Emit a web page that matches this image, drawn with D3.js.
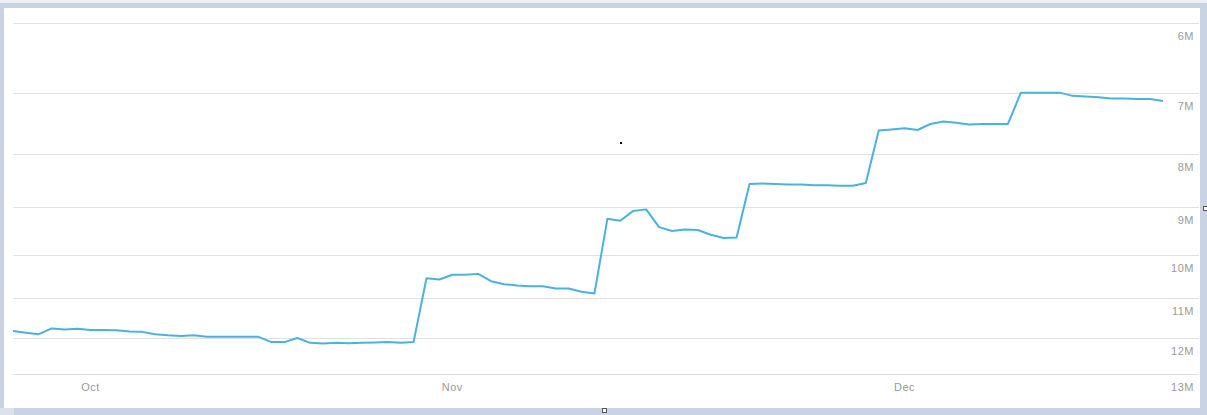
<!DOCTYPE html>
<html><head><meta charset="utf-8">
<script src="https://cdn.jsdelivr.net/npm/d3@7"></script>
<style>
html,body{margin:0;padding:0;background:#c9d3e3;}
svg{display:block;}
</style></head>
<body>
<svg id="chart" width="1207" height="415"></svg>
<script>
// values in millions, one per data point (index 0..89)
const seriesValues = [
 11.82,11.86,11.90,11.75,11.78,11.76,11.79,11.79,11.80,11.83,
 11.84,11.90,11.93,11.95,11.93,11.97,11.97,11.97,11.97,11.97,
 12.11,12.11,12.00,12.13,12.15,12.13,12.14,12.13,12.12,12.11,
 12.13,12.11,10.52,10.55,10.44,10.44,10.42,10.59,10.66,10.69,
 10.71,10.71,10.76,10.76,10.84,10.88,9.23,9.27,9.07,9.04,
 9.40,9.48,9.45,9.46,9.56,9.63,9.62,8.55,8.54,8.55,
 8.56,8.56,8.57,8.57,8.58,8.58,8.53,7.60,7.58,7.56,
 7.59,7.49,7.45,7.47,7.50,7.49,7.49,7.49,6.99,6.99,
 6.99,6.99,7.04,7.05,7.06,7.08,7.08,7.09,7.09,7.12
];
const yTickValues = [6,7,8,9,10,11,12,13];
const yTickLabels = ["6M","7M","8M","9M","10M","11M","12M","13M"];
const monthLabels = ["Oct","Nov","Dec"];
const monthIndex = [6, 34, 69];

const svg = d3.select("#chart");
// frame
svg.append("rect").attr("x",0).attr("y",0).attr("width",1207).attr("height",415).attr("fill","#c9d3e3");
svg.append("rect").attr("x",0).attr("y",0).attr("width",1207).attr("height",3).attr("fill","#eef0f4");
svg.append("rect").attr("x",0).attr("y",408).attr("width",14).attr("height",7).attr("fill","#dbe2ec");
svg.append("rect").attr("x",4).attr("y",8).attr("width",1196).attr("height",400).attr("fill","#ffffff");

const x = d3.scaleLinear().domain([0, seriesValues.length - 1]).range([13, 1163]);
const y = d3.scaleLog().domain([6, 13]).range([23.3, 374.3]);

// gridlines
svg.append("g").selectAll("line").data(yTickValues).join("line")
  .attr("x1",13).attr("x2",1199)
  .attr("y1",d=>Math.round(y(d))+0.5).attr("y2",d=>Math.round(y(d))+0.5)
  .attr("stroke","#e1e1e1").attr("stroke-width",1);

// y labels
svg.append("g").selectAll("text").data(yTickValues).join("text")
  .attr("x",1194).attr("y",d=>y(d)+17)
  .attr("text-anchor","end")
  .attr("font-family","Liberation Sans, Arial, sans-serif")
  .attr("font-size",11).attr("fill","#9a9a9a")
  .attr("letter-spacing","0.5px")
  .text((d,i)=>yTickLabels[i]);

// x labels
svg.append("g").selectAll("text").data(monthLabels).join("text")
  .attr("x",(d,i)=>x(monthIndex[i])).attr("y",391)
  .attr("text-anchor","middle")
  .attr("font-family","Liberation Sans, Arial, sans-serif")
  .attr("font-size",11).attr("fill","#9a9a9a")
  .attr("letter-spacing","0.5px")
  .text(d=>d);

// line
const line = d3.line().x((d,i)=>x(i)).y(d=>y(d));
svg.append("path").datum(seriesValues)
  .attr("d",line).attr("fill","none")
  .attr("stroke","#4ab2de").attr("stroke-width",2)
  .attr("stroke-linejoin","round");

// small artifacts
svg.append("rect").attr("x",620).attr("y",142).attr("width",2).attr("height",2).attr("fill","#000");
svg.append("rect").attr("x",602.5).attr("y",408.5).attr("width",4).attr("height",4).attr("fill","#fff").attr("stroke","#555").attr("stroke-width",1);
svg.append("rect").attr("x",1203.5).attr("y",206.5).attr("width",4).attr("height",4).attr("fill","#fff").attr("stroke","#555").attr("stroke-width",1);
</script>
</body></html>
